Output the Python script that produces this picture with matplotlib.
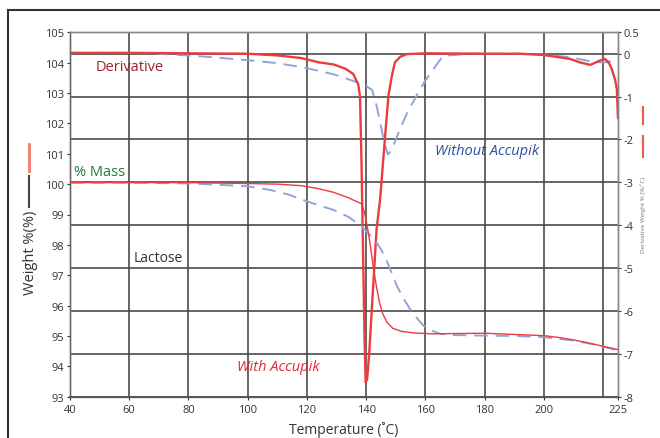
import matplotlib
matplotlib.use("Agg")
import matplotlib.pyplot as plt
from matplotlib import font_manager
from matplotlib.lines import Line2D

# font: narrow sans if we have it
names = {f.name for f in font_manager.fontManager.ttflist}
fam = "Liberation Sans Narrow" if "Liberation Sans Narrow" in names else "Open Sans"
plt.rcParams["font.family"] = [fam, "DejaVu Sans"]
plt.rcParams["axes.unicode_minus"] = False

# mass curves (left axis, weight %)
mass_with_T = [40, 60, 80, 100, 110, 118, 124, 129, 134, 138.5, 139.3, 140, 140.7, 141.5,
               142.5, 143.5, 144.5, 145.5, 147, 149, 152, 156, 162.6, 170, 180, 190, 200,
               205, 210, 215, 220, 225]
mass_with = [100.05, 100.05, 100.05, 100.02, 100.0, 99.95, 99.85, 99.73, 99.55, 99.35, 99.1,
             98.8, 98.4, 97.9, 97.2, 96.6, 96.1, 95.75, 95.45, 95.25, 95.15, 95.1, 95.07,
             95.08, 95.09, 95.05, 95.01, 94.95, 94.87, 94.77, 94.66, 94.55]

mass_without_T = [40, 60, 80, 90, 100, 108, 114, 118, 124, 129, 134, 138, 141, 143.5, 145,
                  147, 148.5, 150.3, 152.5, 154.8, 157, 159.3, 162, 165, 170, 180, 190, 200,
                  210, 218, 225]
mass_without = [100.05, 100.05, 100.02, 99.98, 99.93, 99.8, 99.65, 99.5, 99.3, 99.15, 98.92,
                98.65, 98.35, 98.08, 97.85, 97.45, 97.1, 96.66, 96.25, 95.89, 95.6, 95.34,
                95.18, 95.07, 95.03, 95.01, 95.0, 94.96, 94.85, 94.7, 94.52]

# derivative curves (right axis, %/C)
deriv_with_T = [40, 60, 80, 100, 110, 118, 124, 129, 133, 135.6, 137.3, 137.9, 138.4, 138.9,
                139.4, 139.8, 140.3, 141.0, 142.2, 143.5, 144.7, 146.3, 147.5, 148.7, 149.7,
                151.5, 153.7, 160, 180, 192, 200, 208.8, 212, 215.6, 218.9, 220.6, 222,
                222.9, 224, 224.6, 225]
deriv_with = [0.02, 0.02, 0.01, 0.0, -0.04, -0.1, -0.2, -0.25, -0.35, -0.47, -0.71, -1.0,
              -2.5, -4.5, -6.5, -7.66, -7.6, -7.0, -5.6, -4.09, -3.39, -1.99, -0.98, -0.5,
              -0.2, -0.07, -0.01, 0.01, 0.0, 0.0, -0.03, -0.12, -0.2, -0.26, -0.16, -0.12,
              -0.22, -0.36, -0.6, -0.82, -1.5]

deriv_without_T = [40, 60, 70, 84, 100, 110, 118, 124, 129, 135, 140, 142, 143.5, 145, 146.2,
                   147.3, 148.5, 150, 151.4, 154, 157, 160, 162.7, 164.5, 166, 175, 190, 200,
                   208.8, 214.4, 219, 221, 223, 225]
deriv_without = [0.02, 0.02, 0.0, -0.06, -0.15, -0.22, -0.31, -0.4, -0.48, -0.62, -0.75,
                 -0.85, -1.21, -1.7, -2.1, -2.35, -2.25, -2.0, -1.76, -1.35, -0.98, -0.62,
                 -0.36, -0.18, -0.05, 0.0, 0.0, -0.02, -0.08, -0.16, -0.2, -0.2, -0.16, -0.12]

x_ticks = [40, 60, 80, 100, 120, 140, 160, 180, 200, 225]
x_grid = [60, 80, 100, 120, 140, 160, 180, 200, 220]
left_ticks = list(range(93, 106))
right_ticks = [0.5, 0, -1, -2, -3, -4, -5, -6, -7, -8]
right_labels = ["0.5", "0", "-1", "-2", "-3", "-4", "-5", "-6", "-7", "-8"]

RED = "#ec3b3f"
BLUE = "#8fa6d6"
GRID = "#4a4a4a"
TXT = "#333333"

fig = plt.figure(figsize=(6.6, 4.39), dpi=100)
ax = fig.add_axes([70 / 660, 1 - 397.7 / 439, 548 / 660, 364.4 / 439])
ax2 = ax.twinx()
ax.set_zorder(ax2.get_zorder() + 1)
ax.patch.set_visible(False)

ax.set_xlim(40, 225)
ax.set_ylim(93, 105)
ax2.set_ylim(-8, 0.5)

# grid drawn on the right axis (behind everything)
for g in x_grid:
    ax2.axvline(g, color=GRID, lw=1.2, zorder=0)
for r in right_ticks[1:-1]:
    ax2.axhline(r, color=GRID, lw=1.2, zorder=0)

ax2.plot(deriv_without_T, deriv_without, color=BLUE, lw=1.4, dashes=(7, 4), zorder=2)
ax2.plot(deriv_with_T, deriv_with, color=RED, lw=1.7, zorder=3, clip_on=True)

ax.plot(mass_without_T, mass_without, color=BLUE, lw=1.4, dashes=(7, 4), zorder=2)
ax.plot(mass_with_T, mass_with, color=RED, lw=1.0, zorder=3)

ax.set_xticks(x_ticks)
ax.set_yticks(left_ticks)
ax2.set_yticks(right_ticks)
ax2.set_yticklabels(right_labels)
for a in (ax, ax2):
    a.tick_params(labelsize=8, colors=TXT, length=2.5, width=0.8, pad=1.5)
    for s in a.spines.values():
        s.set_color("#888888")
        s.set_linewidth(1.0)
ax.tick_params(axis="x", pad=3)
ax.spines["left"].set_color("#666666")
ax.spines["bottom"].set_color("#555555")
ax.spines["bottom"].set_linewidth(1.4)

ax.set_xlabel("Temperature (˚C)", fontsize=10, color=TXT, labelpad=4)
fig.text(30 / 660, 1 - 253 / 439, "Weight %(%)", rotation=90, ha="center", va="center",
         fontsize=10.5, color=TXT)
fig.add_artist(Line2D([29 / 660, 29 / 660], [1 - 145 / 439, 1 - 172 / 439], color="#f07a6a", lw=2))
fig.add_artist(Line2D([29 / 660, 29 / 660], [1 - 177 / 439, 1 - 208 / 439], color="#444444", lw=1.5))

# right side tiny label with red marks
fig.add_artist(Line2D([643 / 660, 643 / 660], [1 - 108 / 439, 1 - 125 / 439], color="#f05a4a", lw=1.5))
fig.add_artist(Line2D([643 / 660, 643 / 660], [1 - 137 / 439, 1 - 158 / 439], color="#f05a4a", lw=1.5))
fig.text(643 / 660, 1 - 215 / 439, "Derivative Weight % (%/˚C)", rotation=90, ha="center",
         va="center", fontsize=4.5, color="#777777")

# annotations
ax.text(60.3, 103.89, "Derivative", color="#a3202c", fontsize=10.5, ha="center", va="center")
ax.text(50.1, 100.43, "% Mass", color="#1c7a3e", fontsize=10.5, ha="center", va="center")
ax.text(69.7, 97.57, "Lactose", color=TXT, fontsize=10, ha="center", va="center")
ax.text(110.2, 94.0, "With Accupik", color="#e3263a", fontsize=10.5, style="italic",
        ha="center", va="center")
ax.text(180.8, 101.1, "Without Accupik", color="#2d4fa3", fontsize=10.5, style="italic",
        ha="center", va="center")

# outer frame of the figure
fig.add_artist(Line2D([8 / 660, 1.0], [1 - 11 / 439, 1 - 11 / 439], color="#333333", lw=1.5))
fig.add_artist(Line2D([8 / 660, 8 / 660], [1 - 11 / 439, 0.0], color="#333333", lw=1.5))

fig.savefig("out.png", dpi=100)
